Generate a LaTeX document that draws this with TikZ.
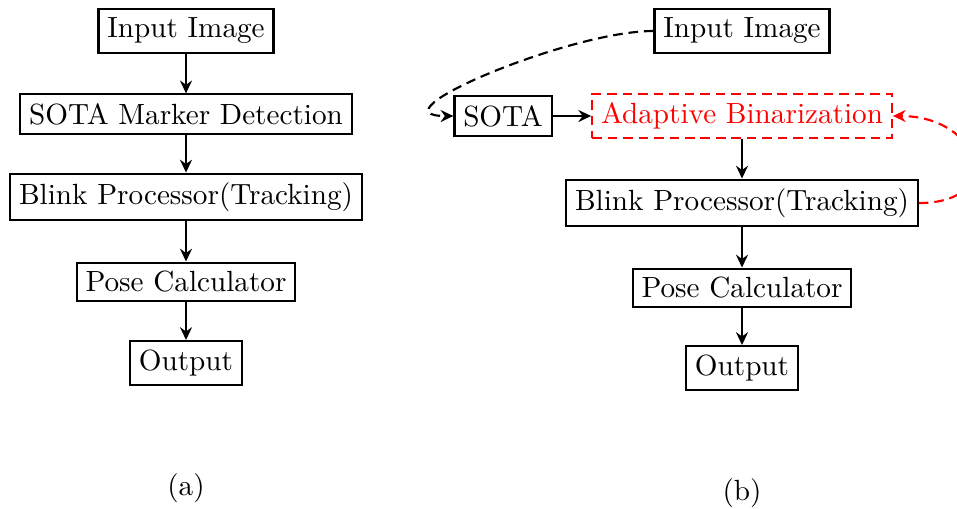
\documentclass[tikz,border=0pt]{standalone}
\usetikzlibrary{arrows.meta}
\begin{document}
\begin{tikzpicture}[x=0.375pt,y=-0.375pt,
  font=\fontsize{10.95}{13}\selectfont,
  box/.style={draw,thick,inner sep=3.3pt},
  redbox/.style={draw=red,text=red,thick,inner sep=3.3pt,dash pattern=on 3.6pt off 2.2pt},
  arr/.style={thick,-{Stealth[length=4.8pt,width=4.5pt,inset=1.6pt]}},
  darr/.style={arr,dash pattern=on 3.6pt off 2.2pt}]
\useasboundingbox (0,0) rectangle (957,508);
\clip (0,0) rectangle (957,508);
% (a)
\node[box] (a1) at (186,31) {Input Image};
\node[box] (a2) at (186,114) {SOTA Marker Detection};
\node[box] (a3) at (186,197) {Blink Processor(Tracking)};
\node[box] (a4) at (186,282) {Pose Calculator};
\node[box] (a5) at (186,363) {Output};
\node (la) at (186,488) {(a)};
\draw[arr] (a1) -- (a2);
\draw[arr] (a2) -- (a3);
\draw[arr] (a3) -- (a4);
\draw[arr] (a4) -- (a5);
% (b)
\node[box] (b1) at (742,31) {Input Image};
\node[box] (b2) at (503,116) {SOTA};
\node[redbox] (b3) at (742,116) {Adaptive Binarization};
\node[box] (b4) at (742,203) {Blink Processor(Tracking)};
\node[box] (b5) at (742,288) {Pose Calculator};
\node[box] (b6) at (742,368) {Output};
\node (lb) at (742,493) {(b)};
\draw[darr] (b1.west) to[out=180,in=180] (b2.west);
\draw[arr] (b2) -- (b3);
\draw[arr] (b3) -- (b4);
\draw[arr] (b4) -- (b5);
\draw[arr] (b5) -- (b6);
\draw[darr,red] (b4.east) to[out=0,in=0,looseness=2.5] (b3.east);
\end{tikzpicture}
\end{document}
